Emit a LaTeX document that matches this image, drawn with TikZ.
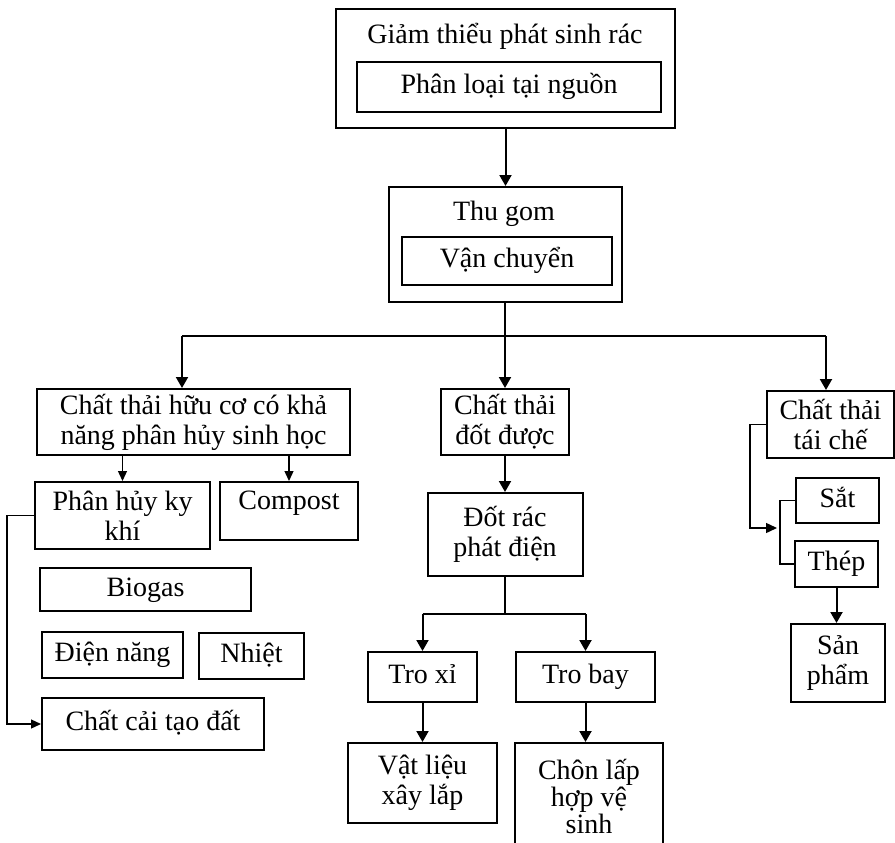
\documentclass[tikz,border=0pt]{standalone}
\usepackage{fontspec}
\setmainfont{Liberation Serif}
\usetikzlibrary{arrows.meta}
\begin{document}
\begin{tikzpicture}[x=1pt,y=-1pt,
  box/.style={draw, line width=2pt, align=center, inner sep=0pt, font=\fontsize{28}{30}\selectfont},
  thinbox/.style={box, line width=1.2pt},
  sl/.style={text height=19pt, text depth=6pt},
  txt/.style={inner sep=0pt, anchor=base, font=\fontsize{28}{30}\selectfont},
  ln/.style={line width=2pt},
  tln/.style={line width=1.4pt},
  arr/.style={line width=2pt, -{Triangle[width=12pt,length=11pt]}},
  marr/.style={line width=1.4pt, -{Triangle[width=10pt,length=11pt]}},
  sarr/.style={line width=1.3pt, -{Triangle[width=9pt,length=10pt]}}]
\useasboundingbox (0,0) rectangle (895,843);
% top
\node[box, minimum width=339, minimum height=119] (top) at (505.5,68.5) {};
\node[txt] (topT) at (505,44) {Giảm thiểu phát sinh rác};
\node[thinbox, sl, minimum width=304, minimum height=50] (topIn) at (509,87) {Phân loại tại nguồn};
% collection
\node[box, minimum width=233, minimum height=115] (thu) at (505,244.5) {};
\node[txt] (thuT) at (504,220) {Thu gom};
\node[thinbox, sl, minimum width=210, minimum height=48] (thuIn) at (507,261) {Vận chuyển};
% level 2
\node[box, minimum width=313, minimum height=66] (org) at (193.5,422) {Chất thải hữu cơ có khả\\năng phân hủy sinh học};
\node[box, minimum width=128, minimum height=66] (burn) at (505,422) {Chất thải\\đốt được};
\node[box, minimum width=127, minimum height=67] (recyc) at (830.5,424.5) {Chất thải\\tái chế};
% organic branch
\node[box, minimum width=175, minimum height=67] (anaer) at (122.5,515.5) {Phân hủy ky\\khí};
\node[box, text height=19pt, text depth=22pt, minimum width=138, minimum height=58] (compost) at (289,511) {Compost};
\node[box, sl, minimum width=211, minimum height=43] (biogas) at (145.5,589.5) {Biogas};
\node[box, sl, minimum width=141, minimum height=46] (dien) at (112.5,655) {Điện năng};
\node[box, sl, minimum width=105, minimum height=46] (nhiet) at (251.5,656) {Nhiệt};
\node[box, sl, minimum width=222, minimum height=52] (caitao) at (153,724) {Chất cải tạo đất};
% burnable branch
\node[box, minimum width=155, minimum height=83] (power) at (505,534.5) {Đốt rác\\phát điện};
\node[box, sl, minimum width=109, minimum height=50] (troxi) at (422.5,677) {Tro xỉ};
\node[box, sl, minimum width=139, minimum height=50] (trobay) at (585.5,677) {Tro bay};
\node[box, minimum width=149, minimum height=80] (vatlieu) at (422.5,783) {Vật liệu\\xây lắp};
\node[box, font=\fontsize{28}{27}\selectfont, minimum width=148, minimum height=107] (chon) at (589,796.5) {Chôn lấp\\hợp vệ\\sinh};
% recycle branch
\node[box, sl, minimum width=83, minimum height=45] (sat) at (837.5,500.5) {Sắt};
\node[box, sl, minimum width=83, minimum height=46] (thep) at (836.5,564) {Thép};
\node[box, minimum width=94, minimum height=78] (sanpham) at (838,663) {Sản\\phẩm};
% coordinates
\coordinate (hL) at (182,336);
\coordinate (hR) at (826,336);
\coordinate (sp) at (505,614);
\coordinate (br) at (777,528);
% connectors
\draw[arr] (top.south) -- (top.south |- thu.north);
\draw[ln] (thu.south) -- (thu.south |- hL);
\draw[ln] (hL) -- (hR);
\draw[arr] (hL) -- (hL |- org.north);
\draw[arr] (burn.north |- hL) -- (burn.north);
\draw[arr] (hR) -- (hR |- recyc.north);
\draw[sarr] (org.south -| anaer.north) -- (anaer.north);
\draw[sarr] (org.south -| compost.north) -- (compost.north);
\draw[sarr] (anaer.west) -- ++(-27,0) |- (caitao.west);
\draw[arr] (burn.south) -- (burn.south |- power.north);
\draw[ln] (power.south) -- (sp);
\draw[ln] (troxi.north |- sp) -- (trobay.north |- sp);
\draw[arr] (troxi.north |- sp) -- (troxi.north);
\draw[arr] (trobay.north |- sp) -- (trobay.north);
\draw[arr] (troxi.south) -- (vatlieu.north);
\draw[arr] (trobay.south) -- (trobay.south |- chon.north);
\draw[marr] (recyc.west) -- ++(-16,0) |- (br);
\draw[tln] (sat.west) -- ++(-15,0) |- (thep.west);
\draw[arr] (thep.south) -- (thep.south |- sanpham.north);
\end{tikzpicture}
\end{document}
